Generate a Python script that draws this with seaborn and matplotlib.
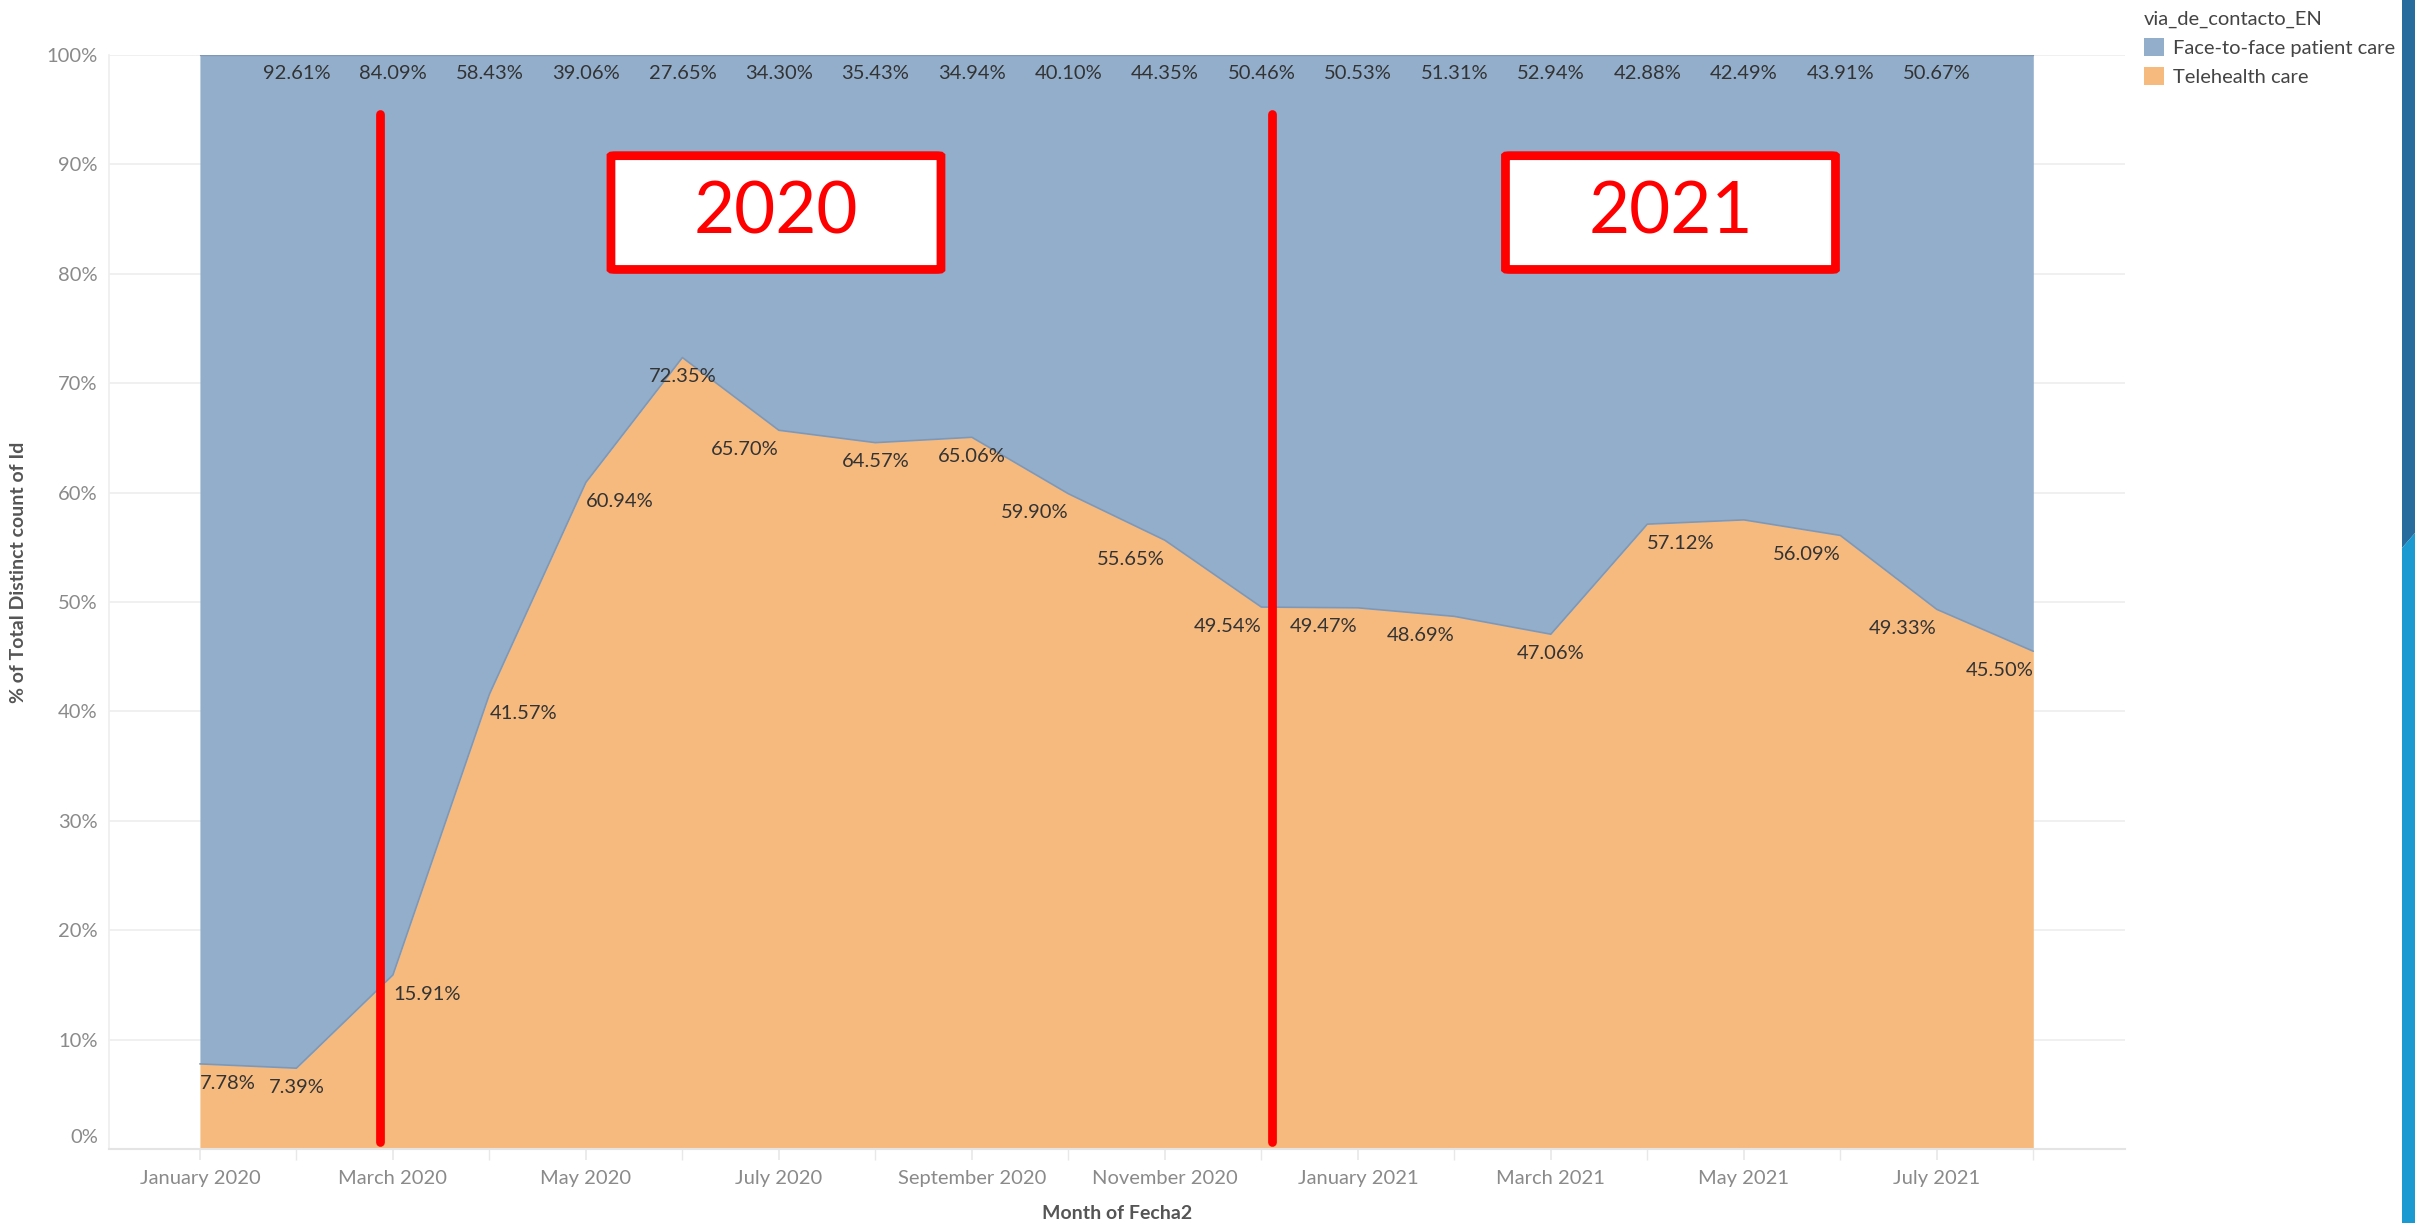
import numpy as np
import pandas as pd
import seaborn as sns
import matplotlib.pyplot as plt
from matplotlib.patches import FancyBboxPatch, Polygon, Patch
from matplotlib.transforms import ScaledTranslation

# data
months = ['2020-01', '2020-02', '2020-03', '2020-04', '2020-05', '2020-06', '2020-07',
          '2020-08', '2020-09', '2020-10', '2020-11', '2020-12', '2021-01', '2021-02',
          '2021-03', '2021-04', '2021-05', '2021-06', '2021-07', '2021-08']
telehealth = [7.78, 7.39, 15.91, 41.57, 60.94, 72.35, 65.70, 64.57, 65.06, 59.90,
              55.65, 49.54, 49.47, 48.69, 47.06, 57.12, 57.51, 56.09, 49.33, 45.50]
face_to_face = [92.22, 92.61, 84.09, 58.43, 39.06, 27.65, 34.30, 35.43, 34.94, 40.10,
                44.35, 50.46, 50.53, 51.31, 52.94, 42.88, 42.49, 43.91, 50.67, 54.50]
tick_labels = ['January 2020', 'March 2020', 'May 2020', 'July 2020', 'September 2020',
               'November 2020', 'January 2021', 'March 2021', 'May 2021', 'July 2021']

# which labels are shown (Tableau hides some)
face_shown = [False] + [True] * 18 + [False]
tele_ha = ['left', 'center', 'left', 'left', 'left', 'center', 'right', 'center', 'center',
           'right', 'right', 'right', 'right', 'right', 'center', 'left', None, 'right',
           'right', 'right']

df = pd.DataFrame({'month': months, 'tele': telehealth, 'face': face_to_face})
df['x'] = np.arange(len(df))
df['top'] = df['tele'] + df['face']

sns.set_theme(style='white')
plt.rcParams['font.family'] = ['Lato', 'DejaVu Sans']

BLUE = '#93AECB'
ORANGE = '#F6BA7F'

fig = plt.figure(figsize=(24.15, 12.23), dpi=100)
ax = fig.add_axes([0.0451, 0.0605, 0.8348, 0.8945])

ax.fill_between(df['x'], 0, df['tele'], color=ORANGE, lw=0, zorder=2)
ax.fill_between(df['x'], df['tele'], df['top'], color=BLUE, lw=0, zorder=2)
sns.lineplot(data=df, x='x', y='tele', ax=ax, color='#7f98b6', lw=1.2, zorder=3)
sns.lineplot(data=df, x='x', y='top', ax=ax, color='#7f98b6', lw=1.0, zorder=3)

ax.set_xlim(-0.943, 19.95)
ax.set_ylim(0, 100)

# gridlines / spines
ax.set_yticks(np.arange(0, 101, 10))
ax.set_yticklabels([f'{v}%' for v in range(0, 101, 10)], color='#8a8a8a', fontsize=14.5)
ax.yaxis.grid(True, color='#eeeeee', lw=1.2, zorder=0)
ax.set_axisbelow(True)
for s in ['top', 'right']:
    ax.spines[s].set_visible(False)
ax.spines['left'].set_color('#eeeeee')
ax.spines['bottom'].set_color('#e4e4e4')
ax.spines['left'].set_linewidth(1.2)
ax.spines['bottom'].set_linewidth(1.5)
ax.tick_params(axis='y', length=0, pad=8)
lab0 = ax.get_yticklabels()[0]
lab0.set_transform(lab0.get_transform() + ScaledTranslation(0, 0.13, fig.dpi_scale_trans))

ax.set_xticks(df['x'][::2])
ax.set_xticklabels(tick_labels, color='#8a8a8a', fontsize=14.5)
ax.set_xticks(df['x'][1::2], minor=True)
ax.tick_params(axis='x', which='both', length=8, color='#e8e8e8', pad=7, bottom=True)

ax.set_xlabel('Month of Fecha2', fontsize=14, fontweight='bold', color='#555555')
ax.set_ylabel('% of Total Distinct count of Id', fontsize=14, fontweight='bold',
              color='#555555')
ax.xaxis.set_label_coords(0.5, -0.051)
ax.yaxis.set_label_coords(-0.0405, 0.527)

# data labels
for i, r in df.iterrows():
    if face_shown[i]:
        ax.text(r['x'], 98.3, f"{r['face']:.2f}%", ha='center', va='center',
                fontsize=14.5, color='#333333', zorder=5)
    if tele_ha[i] is not None:
        ax.text(r['x'], r['tele'] - 1.75, f"{r['tele']:.2f}%", ha=tele_ha[i],
                va='center', fontsize=14.5, color='#333333', zorder=5)

# red annotations
for xv in [1.87, 11.11]:
    ax.plot([xv, xv], [0.6, 94.6], color='#ff0000', lw=6.3, solid_capstyle='round', zorder=6)
for x0, txt in [(4.26, '2020'), (13.53, '2021')]:
    ax.add_patch(FancyBboxPatch((x0, 80.4), 3.42, 10.4, boxstyle='round,pad=0,rounding_size=0.05',
                                fc='white', ec='#ff0000', lw=6.3, zorder=6))
    ax.text(x0 + 1.71, 85.6, txt, ha='center', va='center', fontsize=51,
            color='#ff0000', zorder=7)

# legend
handles = [Patch(fc=BLUE, ec='none'), Patch(fc=ORANGE, ec='none')]
leg = fig.legend(handles, ['Face-to-face patient care', 'Telehealth care'],
                 title='via_de_contacto_EN', loc='upper left',
                 bbox_to_anchor=(0.8845, 0.998), frameon=False, fontsize=14.5,
                 title_fontsize=14.5, handlelength=1.0, handleheight=1.0,
                 handletextpad=0.45, labelspacing=0.5, borderaxespad=0,
                 alignment='left')
for t in leg.get_texts():
    t.set_color('#444444')
leg.get_title().set_color('#444444')

# slide edge stripe
fig.patches.append(Polygon([[2402 / 2415, 1], [1, 1], [1, 1 - 533 / 1223], [2402 / 2415, 1 - 548 / 1223]],
                           closed=True, transform=fig.transFigure, fc='#286B9D', ec='none'))
fig.patches.append(Polygon([[2402 / 2415, 1 - 548 / 1223], [1, 1 - 533 / 1223], [1, 0], [2402 / 2415, 0]],
                           closed=True, transform=fig.transFigure, fc='#1A9AD0', ec='none'))

fig.savefig('out.png', dpi=100)
